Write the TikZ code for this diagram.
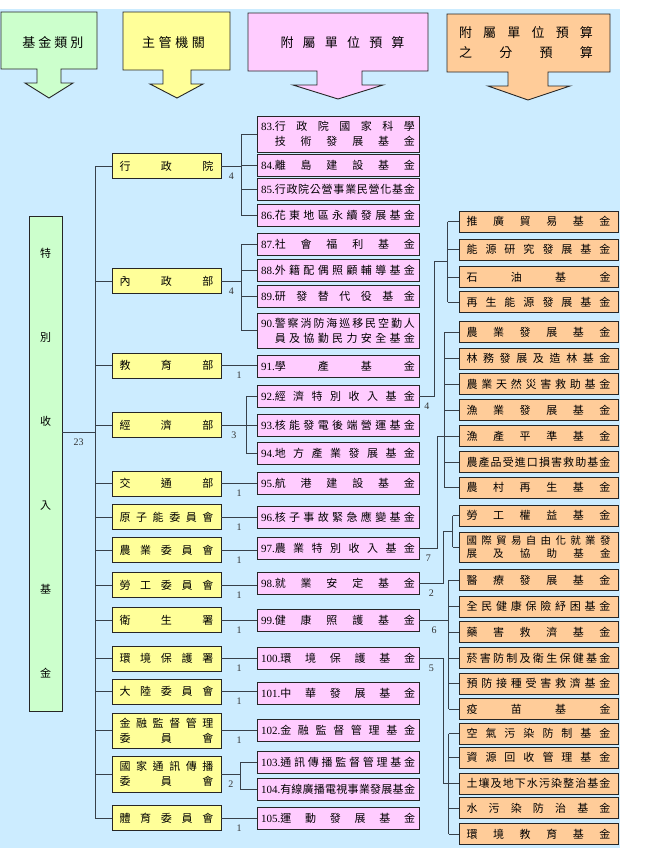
\documentclass[tikz,border=0pt]{standalone}
\usepackage{fontspec}
\setmainfont{Liberation Serif}
\newfontfamily\cjk{Noto Sans CJK TC}
\usetikzlibrary{calc,positioning}
\definecolor{bgblue}{RGB}{204,236,255}
\definecolor{gfill}{RGB}{204,255,204}
\definecolor{yfill}{RGB}{255,255,153}
\definecolor{pfill}{RGB}{255,204,255}
\definecolor{ofill}{RGB}{255,204,153}
\definecolor{linkgray}{RGB}{55,65,75}
% spread the characters over the whole line
\def\sprA#1#2{#1\ifx\relax#2\else\hfill\expandafter\sprA\expandafter#2\fi}
\newcommand\spr[1]{{\cjk\expandafter\sprA#1\relax}}
\begin{document}
\begin{tikzpicture}[x=1pt, y=-1pt,
  box/.style={draw=black!85, line width=.9pt, inner sep=0pt, align=center, font=\fontsize{11}{15}\selectfont},
  dept/.style={box, fill=yfill, minimum width=109pt, minimum height=25pt, text width=94pt},
  fund/.style={box, fill=pfill, minimum width=162pt, minimum height=22pt, text width=154pt},
  sub/.style={box, fill=ofill, minimum width=159pt, minimum height=21pt, text width=144pt},
  hdr/.style={draw=black!85, line width=.9pt},
  htext/.style={inner sep=0pt, align=center, font=\fontsize{13}{20}\selectfont},
  link/.style={draw=linkgray, line width=.9pt},
  cnt/.style={inner sep=1pt, text=black!80, font=\fontsize{10}{12}\selectfont}]

\useasboundingbox (0,0) rectangle (646,852);
\fill[bgblue] (0,9) rectangle (620,848);

% column headers
\filldraw[hdr, fill=gfill] (1,12) -- (97,12) -- (97,69) -- (61,69) -- (61,83) -- (73,83) -- (49,98) -- (25,83) -- (37,83) -- (37,69) -- (1,69) -- cycle;
\filldraw[hdr, fill=yfill] (123,12) -- (230,12) -- (230,70) -- (191,70) -- (191,84) -- (203,84) -- (177,98) -- (150,84) -- (163,84) -- (163,70) -- (123,70) -- cycle;
\filldraw[hdr, fill=pfill] (248,13) -- (428,13) -- (428,71) -- (362,71) -- (362,85) -- (383,85) -- (338,99) -- (293,85) -- (317,85) -- (317,71) -- (248,71) -- cycle;
\filldraw[hdr, fill=ofill] (447,14) -- (610,14) -- (610,72) -- (548,72) -- (548,86) -- (570,86) -- (528,100) -- (488,86) -- (508,86) -- (508,72) -- (447,72) -- cycle;
\node[htext, text width=61pt] (h1) at (53,43) {\spr{基金類別}};
\node[htext, text width=63pt] (h2) at (173.5,43) {\spr{主管機關}};
\node[htext, text width=124pt] (h3) at (342.5,43) {\spr{附屬單位預算}};
\node[htext, text width=134pt] (h4) at (526,43) {\spr{附屬單位預算}\\\spr{之分預算}};

% fund type
\node[box, fill=gfill, minimum width=33pt, minimum height=495pt, text width=20pt, font=\fontsize{11}{84}\selectfont\cjk] (g) at (45.5,463.5) {特\\別\\收\\入\\基\\金};

% agencies
\foreach \i/\y/\nm in {1/166/行政院, 2/281/內政部, 3/365.5/教育部, 4/425/經濟部, 5/483.5/交通部, 6/517/原子能委員會, 7/550/農業委員會, 8/585/勞工委員會, 9/620/衛生署, 10/658.5/環境保護署, 11/691.5/大陸委員會, 14/818/體育委員會}
  \node[dept] (d\i) at (166.5,\y) {\spr{\nm}};
\node[dept, minimum height=35pt] (d12) at (166.5,730.5) {\spr{金融監督管理}\\\spr{委員會}};
\node[dept, minimum height=36pt] (d13) at (166.5,774) {\spr{國家通訊傳播}\\\spr{委員會}};

% attached units
\node[fund, minimum height=36pt] (f83) at (338,134) {83.\spr{行政院國家科學}\\\phantom{83.}\spr{技術發展基金}};
\node[fund, minimum height=35pt] (f90) at (338,330.5) {90.\spr{警察消防海巡移民空勤人}\\\phantom{90.}\spr{員及協勤民力安全基金}};
\foreach \n/\y/\nm in {84/165/離島建設基金, 85/189.5/行政院公營事業民營化基金, 86/215/花東地區永續發展基金, 87/244/社會福利基金, 88/270/外籍配偶照顧輔導基金, 89/296.5/研發替代役基金, 91/366/學產基金, 92/396.5/經濟特別收入基金, 93/425.5/核能發電後端營運基金, 94/453/地方產業發展基金, 95/483.5/航港建設基金, 96/517/核子事故緊急應變基金, 97/548.5/農業特別收入基金, 98/583.5/就業安定基金, 99/620.5/健康照護基金, 100/658.5/環境保護基金, 101/693.5/中華發展基金, 102/730.5/金融監督管理基金, 103/762/通訊傳播監督管理基金, 104/789/有線廣播電視事業發展基金, 105/818/運動發展基金}
  \node[fund] (f\n) at (338,\y) {\n.\spr{\nm}};

% sub-budgets
\foreach \i/\y/\nm in {1/221.5/推廣貿易基金, 2/249.5/能源研究發展基金, 3/277/石油基金, 4/302/再生能源發展基金, 5/332/農業發展基金, 6/358.5/林務發展及造林基金, 7/384/農業天然災害救助基金, 8/410/漁業發展基金, 9/436/漁產平準基金, 10/462/農產品受進口損害救助基金, 11/487.5/農村再生基金, 12/515.5/勞工權益基金, 14/580/醫療發展基金, 15/606.5/全民健康保險紓困基金, 16/632/藥害救濟基金, 17/658/菸害防制及衛生保健基金, 18/683.5/預防接種受害救濟基金, 19/709/疫苗基金, 20/733.5/空氣污染防制基金, 21/757.5/資源回收管理基金, 22/783.5/土壤及地下水污染整治基金, 23/808/水污染防治基金, 24/834/環境教育基金}
  \node[sub] (o\i) at (538.5,\y) {\spr{\nm}};
\node[sub, minimum height=30pt, font=\fontsize{10.5}{13.5}\selectfont] (o13) at (538.5,547) {\spr{國際貿易自由化就業發}\\\spr{展及協助基金}};

% trunk
\coordinate (t0) at (95,432);
\draw[link] (t0 -| g.east) -- (t0) node[cnt, midway, below=5pt]{23};
\draw[link] (t0 |- d1.west) -- (t0 |- d14.west);
\foreach \i in {1,...,14}
  \draw[link] (t0 |- d\i.west) -- (d\i.west);

% agencies to units
\foreach \d/\f in {3/91, 5/95, 6/96, 7/97, 8/98, 9/99, 10/100, 11/101, 12/102, 14/105}
  \draw[link] (d\d.east) -- (d\d.east -| f\f.west) node[cnt, midway, below=5pt]{1};
\draw[link] (d1.east) -- ++(20,0) coordinate (s1) node[cnt, midway, below=5pt]{4};
\draw[link] (s1 |- f83.west) -- (s1 |- f86.west);
\foreach \f in {83,...,86}
  \draw[link] (s1 |- f\f.west) -- (f\f.west);
\draw[link] (d2.east) -- ++(20,0) coordinate (s2) node[cnt, midway, below=5pt]{4};
\draw[link] (s2 |- f87.west) -- (s2 |- f90.west);
\foreach \f in {87,...,90}
  \draw[link] (s2 |- f\f.west) -- (f\f.west);
\draw[link] (d4.east) -- ++(25,0) coordinate (s4) node[cnt, midway, below=5pt]{3};
\draw[link] (s4 |- f92.west) -- (s4 |- f94.west);
\foreach \f in {92,93,94}
  \draw[link] (s4 |- f\f.west) -- (f\f.west);
\draw[link] (d13.east) -- ++(19,0) coordinate (s13) node[cnt, midway, below=5pt]{2};
\draw[link] (s13 |- f103.west) -- (s13 |- f104.west);
\foreach \f in {103,104}
  \draw[link] (s13 |- f\f.west) -- (f\f.west);

% units to sub-budgets
\coordinate (b1) at ($(o1.west)!.5!(o4.west)+(-11,0)$);
\draw[link] (f92.east) -- ++(15,0) node[cnt, midway, below=5pt]{4} |- (b1);
\draw[link] (b1 |- o1.west) -- (b1 |- o4.west);
\foreach \i in {1,...,4}
  \draw[link] (b1 |- o\i.west) -- (o\i.west);
\coordinate (b2) at ($(o9.west)+(-14,0)$);
\draw[link] (f97.east) -- ++(18,0) node[cnt, midway, below=5pt]{7} |- (b2);
\draw[link] (b2 |- o5.west) -- (b2 |- o11.west);
\foreach \i in {5,...,11}
  \draw[link] (b2 |- o\i.west) -- (o\i.west);
\coordinate (b3) at ($(o12.west)!.5!(o13.west)+(-6,0)$);
\draw[link] (f98.east) -- ++(24,0) node[cnt, midway, below=5pt]{2} |- (b3);
\draw[link] (b3 |- o12.west) -- (b3 |- o13.west);
\foreach \i in {12,13}
  \draw[link] (b3 |- o\i.west) -- (o\i.west);
\coordinate (b4) at ($(o14.west)+(-10,0)$);
\draw[link] (f99.east) -- (f99.east -| b4) node[cnt, midway, below=5pt]{6};
\draw[link] (b4 |- o14.west) -- (b4 |- o19.west);
\foreach \i in {14,...,19}
  \draw[link] (b4 |- o\i.west) -- (o\i.west);
\coordinate (b5) at ($(o22.west)+(-10,0)$);
\draw[link] (f100.east) -- ++(24,0) node[cnt, midway, below=5pt]{5} |- (b5);
\draw[link] (b5 |- o20.west) -- (b5 |- o24.west);
\foreach \i in {20,...,24}
  \draw[link] (b5 |- o\i.west) -- (o\i.west);
\end{tikzpicture}
\end{document}
